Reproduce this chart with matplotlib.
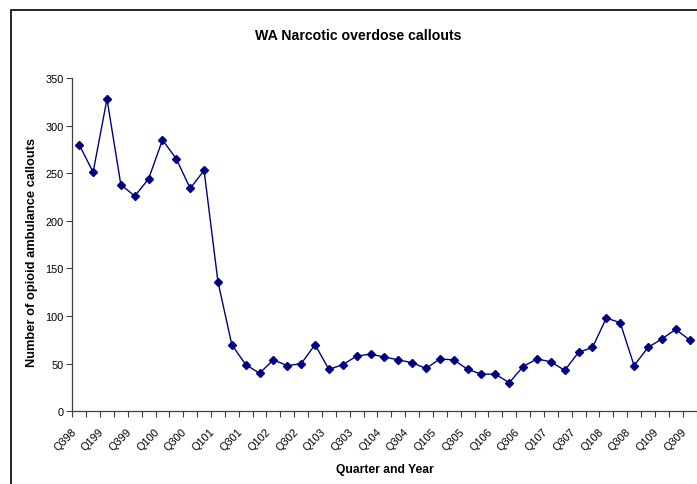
import matplotlib
matplotlib.use("Agg")
import matplotlib.pyplot as plt
from matplotlib.patches import Rectangle
from matplotlib.ticker import FixedLocator, NullFormatter

plt.rcParams['font.family'] = ['Liberation Sans', 'DejaVu Sans']

# Quarterly series, Q3 1998 .. Q3 2009
quarters = ["Q398", "Q498",
            "Q199", "Q299", "Q399", "Q499",
            "Q100", "Q200", "Q300", "Q400",
            "Q101", "Q201", "Q301", "Q401",
            "Q102", "Q202", "Q302", "Q402",
            "Q103", "Q203", "Q303", "Q403",
            "Q104", "Q204", "Q304", "Q404",
            "Q105", "Q205", "Q305", "Q405",
            "Q106", "Q206", "Q306", "Q406",
            "Q107", "Q207", "Q307", "Q407",
            "Q108", "Q208", "Q308", "Q408",
            "Q109", "Q209", "Q309"]
callouts = [280, 251, 328, 238, 226, 244, 285, 265, 234, 253,
            136, 70, 49, 40, 54, 48, 50, 70, 44, 49,
            58, 60, 57, 54, 51, 45, 55, 54, 44, 39,
            39, 30, 47, 55, 52, 43, 62, 67, 98, 93,
            48, 67, 76, 86, 75]
y_ticks = [0, 50, 100, 150, 200, 250, 300, 350]

W, H = 697, 485
fig = plt.figure(figsize=(W / 100, H / 100), dpi=100)

left, right = 72.3, 696.5
top, bottom = 79.0, 412.3
ax = fig.add_axes([left / W, 1 - bottom / H, (right - left) / W, (bottom - top) / H])

n = len(quarters)
xs = [i + 0.5 for i in range(n)]
navy = "#000080"
ax.plot(xs, callouts, color=navy, lw=1.0, marker="D", markersize=4.5,
        markerfacecolor=navy, markeredgecolor=navy, clip_on=False, zorder=3)

ax.set_xlim(0, n)
ax.set_ylim(0, 350)
ax.yaxis.set_major_locator(FixedLocator(y_ticks))
ax.set_yticklabels([str(v) for v in y_ticks])

# tick marks at category boundaries
ax.xaxis.set_major_locator(FixedLocator(list(range(n + 1))))
ax.xaxis.set_major_formatter(NullFormatter())
ax.tick_params(axis="x", which="major", length=4, width=0.8, direction="out", color="#404040")
ax.tick_params(axis="y", which="major", length=4, width=0.8, direction="out",
               color="#404040", labelsize=7.9, pad=2)

# rotated category labels on every other quarter, set slightly left of centre
for i in range(0, n, 2):
    ax.annotate(quarters[i], xy=(xs[i], 0), xycoords=ax.get_xaxis_transform(),
                xytext=(-8.3, -14.6), textcoords="offset pixels",
                rotation=45, ha="right", va="top", rotation_mode="anchor",
                fontsize=7.9, annotation_clip=False)

for s in ["top", "right"]:
    ax.spines[s].set_visible(False)
for s in ["left", "bottom"]:
    ax.spines[s].set_color("#404040")
    ax.spines[s].set_linewidth(0.9)

fig.text(358 / W, 1 - 36 / H, "WA Narcotic overdose callouts", ha="center", va="center",
         fontsize=10.2, fontweight="bold")
fig.text(32.5 / W, 1 - 252.5 / H, "Number of opioid ambulance callouts", ha="center", va="center",
         rotation=90, fontsize=9.3, fontweight="bold")
fig.text(385 / W, 1 - 470 / H, "Quarter and Year", ha="center", va="center",
         fontsize=8.75, fontweight="bold")

# chart area frame
fig.patches.append(Rectangle((11.3 / W, -0.1), 1.2, 1 - 10.7 / H + 0.1,
                             transform=fig.transFigure, fill=False,
                             edgecolor="black", lw=1.2))

fig.savefig("out.png", dpi=100)
